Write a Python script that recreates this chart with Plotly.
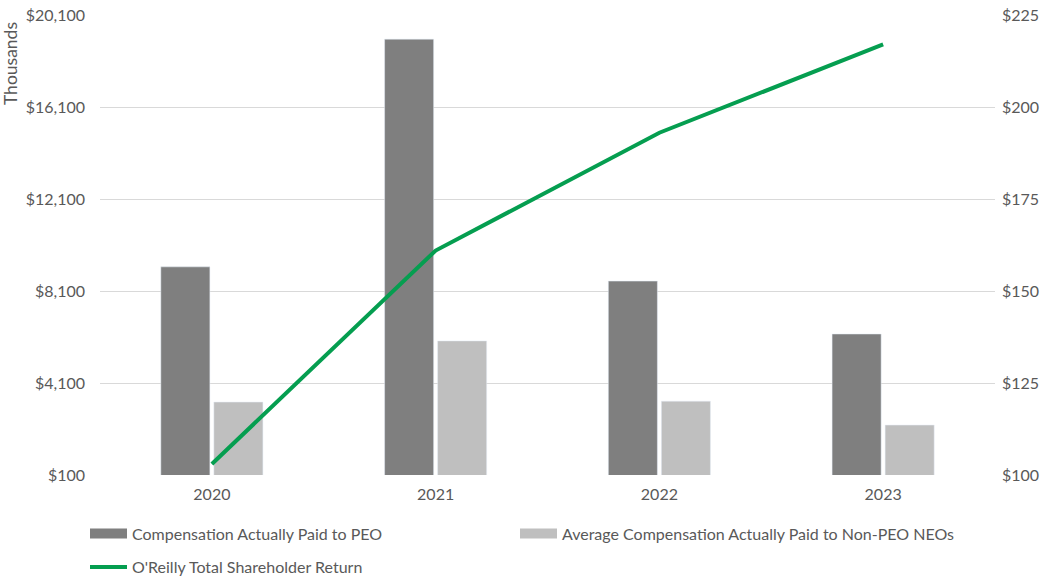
import plotly.graph_objects as go

years = ["2020", "2021", "2022", "2023"]
peo_cap = [9150, 19050, 8530, 6230]
neo_cap = [3270, 5930, 3310, 2270]
tsr = [103, 161, 193, 217]

names = ["Compensation Actually Paid to PEO",
         "Average Compensation Actually Paid to Non-PEO NEOs",
         "O'Reilly Total Shareholder Return"]
c_peo = "#7f7f7f"
c_neo = "#bfbfbf"
c_tsr = "#059e50"
font_color = "#595959"
FONT = "Lato"
FS = 16

fig = go.Figure()
fig.add_trace(go.Bar(x=years, y=peo_cap, marker_color=c_peo, showlegend=False, name=names[0]))
fig.add_trace(go.Bar(x=years, y=neo_cap, marker_color=c_neo, showlegend=False, name=names[1]))
fig.add_trace(go.Scatter(x=years, y=tsr, mode="lines", line=dict(color=c_tsr, width=4),
                         yaxis="y2", showlegend=False, name=names[2]))
# legend entries
fig.add_trace(go.Scatter(x=[None], y=[None], mode="lines", line=dict(color=c_peo, width=10),
                         name=names[0], legend="legend"))
fig.add_trace(go.Scatter(x=[None], y=[None], mode="lines", line=dict(color=c_neo, width=10),
                         name=names[1], legend="legend3"))
fig.add_trace(go.Scatter(x=[None], y=[None], mode="lines", line=dict(color=c_tsr, width=4),
                         name=names[2], legend="legend2"))

leg_common = dict(orientation="h", xref="container", yref="container", xanchor="left",
                  yanchor="top", itemwidth=37, font=dict(size=FS, color=font_color))

fig.update_layout(
    width=1052, height=583,
    margin=dict(l=100, r=57, t=15, b=108),
    paper_bgcolor="white", plot_bgcolor="white",
    font=dict(family=FONT, size=FS, color=font_color),
    barmode="group", bargap=0.526, bargroupgap=0.075,
    xaxis=dict(type="category", showgrid=False, showline=False, ticks="", zeroline=False,
               automargin=False, ticklabelstandoff=8),
    yaxis=dict(range=[100, 20100], tick0=100, dtick=4000, tickprefix="$", tickformat=",",
               showgrid=True, gridcolor="#d9d9d9", gridwidth=1, zeroline=False, showline=False,
               ticks="", ticklabelstandoff=14, automargin=False),
    yaxis2=dict(range=[100, 225], tick0=100, dtick=25, tickprefix="$", overlaying="y", side="right",
                showgrid=False, zeroline=False, showline=False, ticks="", ticklabelstandoff=6,
                automargin=False),
    legend=dict(x=0.0808, y=0.114, **leg_common),
    legend3=dict(x=515 / 1052, y=0.114, **leg_common),
    legend2=dict(x=0.0808, y=0.0566, **leg_common),
    annotations=[dict(text="Thousands", xref="paper", yref="paper", x=-0.1, y=0.989,
                      xanchor="center", yanchor="top", textangle=-90, showarrow=False,
                      font=dict(size=17.5, color=font_color))],
)

fig.write_html("out.html", config={"displayModeBar": False},
               post_script="document.body.style.margin='0';")
